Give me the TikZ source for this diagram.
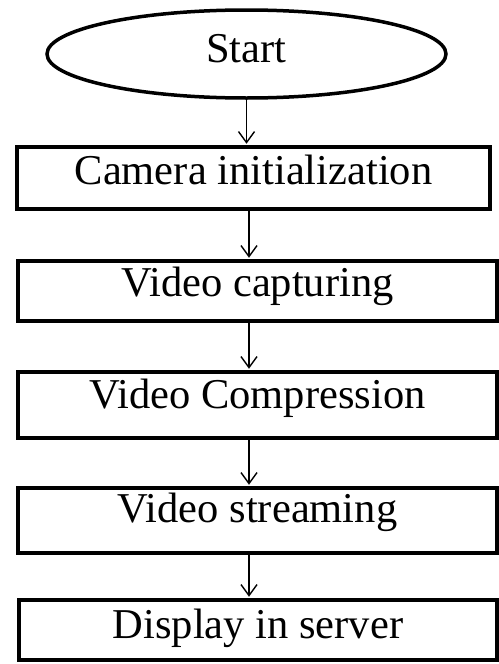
\documentclass[tikz,border=0pt]{standalone}
\usepackage{fontspec}
\setmainfont{Liberation Serif}
\usetikzlibrary{shapes.geometric,arrows.meta}
\begin{document}
\begin{tikzpicture}[x=1pt,y=-1pt,
  lbl/.style={font=\fontsize{42.5}{50}\selectfont, inner sep=0pt, text depth=0pt},
  box/.style={draw, rectangle, line width=3.5pt, lbl},
  arr/.style={line width=1.4pt, shorten >=1.5pt, -{Straight Barb[length=11pt,width=16pt,line width=1.4pt]}}]
\useasboundingbox (0,0) rectangle (498,664);
\node[draw, ellipse, line width=3.5pt, lbl, minimum width=399pt, minimum height=88pt, text height=16pt] (start) at (246.5,54) {Start};
\node[box, minimum width=473pt, minimum height=62pt, text height=12pt] (b1) at (253.5,178) {Camera initialization};
\node[box, minimum width=479pt, minimum height=60pt, text height=10pt] (b2) at (257.5,291) {Video capturing};
\node[box, minimum width=479pt, minimum height=66pt, text height=6pt] (b3) at (257.5,405) {Video Compression};
\node[box, minimum width=479pt, minimum height=65pt, text height=3pt] (b4) at (257.5,520.5) {Video streaming};
\node[box, minimum width=478pt, minimum height=60pt, text height=16pt] (b5) at (258,630) {Display in server};
\coordinate (ax) at (249,0);
\draw[arr] (start.south) -- (start.south |- b1.north);
\draw[arr] (b1.south -| ax) -- (b2.north -| ax);
\draw[arr] (b2.south -| ax) -- (b3.north -| ax);
\draw[arr] (b3.south -| ax) -- (b4.north -| ax);
\draw[arr] (b4.south -| ax) -- (b5.north -| ax);
\end{tikzpicture}
\end{document}
